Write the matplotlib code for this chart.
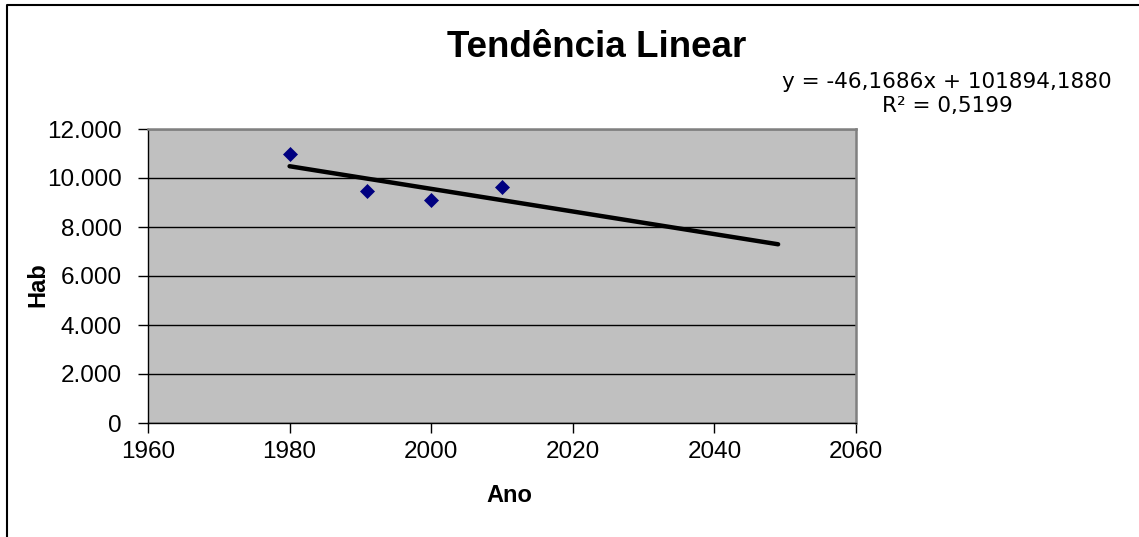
import matplotlib
matplotlib.use('Agg')
import matplotlib.pyplot as plt
from matplotlib.ticker import FuncFormatter
from matplotlib.lines import Line2D

# data
years = [1980, 1991, 2000, 2010]
hab = [10970, 9460, 9090, 9620]

# trendline as stated on the chart
slope = -46.1686
intercept = 101894.1880
r2 = 0.5199
trend_years = [1980, 2049]

xticks = [1960, 1980, 2000, 2020, 2040, 2060]
yticks = [0, 2000, 4000, 6000, 8000, 10000, 12000]

plt.rcParams['font.family'] = ['Liberation Sans', 'DejaVu Sans']

fig = plt.figure(figsize=(11.39, 5.37), dpi=100)
ax = fig.add_axes([148/1139, 1 - 423/537, 708/1139, 294/537])
ax.set_facecolor('#C0C0C0')

trend_y = [slope * x + intercept for x in trend_years]
ax.plot(trend_years, trend_y, color='black', linewidth=3.2, solid_capstyle='round', zorder=3)
ax.plot(years, hab, linestyle='none', marker='D', markersize=7.5, color='#000080',
        markeredgecolor='#000080', markeredgewidth=0.5, zorder=4)

ax.set_xlim(1960, 2060)
ax.set_ylim(0, 12000)
ax.set_xticks(xticks)
ax.set_yticks(yticks)
ax.yaxis.set_major_formatter(FuncFormatter(lambda v, p: f'{int(v):,}'.replace(',', '.')))
ax.grid(axis='y', color='black', linewidth=1.0)
ax.set_axisbelow(True)

ax.tick_params(axis='both', labelsize=17.5, length=7, width=1, color='black', direction='out')
ax.tick_params(axis='y', pad=12)
ax.tick_params(axis='x', pad=6)

for side in ['left', 'bottom']:
    ax.spines[side].set_color('black')
    ax.spines[side].set_linewidth(1.0)
for side in ['top', 'right']:
    ax.spines[side].set_color('#808080')
    ax.spines[side].set_linewidth(1.8)

ax.set_xlabel('Ano', fontsize=17, fontweight='bold', va='center')
ax.xaxis.set_label_coords(0.511, -0.248)
ax.set_ylabel('Hab', fontsize=17, fontweight='bold', va='center')
ax.yaxis.set_label_coords(-0.1554, 0.469)

fig.text(597/1139, 1 - 57/537, 'Tendência Linear', fontsize=26.5, fontweight='bold',
         ha='center', va='baseline')

eq = f'y = {slope:.4f}x + {intercept:.4f}'.replace('.', ',')
r2_txt = f'R² = {r2:.4f}'.replace('.', ',')
fig.text(947/1139, 1 - 88/537, eq, fontsize=15.5, family='DejaVu Sans', ha='center', va='baseline')
fig.text(947/1139, 1 - 112/537, r2_txt, fontsize=15.5, family='DejaVu Sans', ha='center', va='baseline')

# outer chart frame (top and left edges visible)
fig.add_artist(Line2D([7/1139, 7/1139, 1], [0, 1 - 5/537, 1 - 5/537],
                      transform=fig.transFigure, color='black', linewidth=1.5))

fig.savefig('out.png', dpi=100, facecolor='white')
